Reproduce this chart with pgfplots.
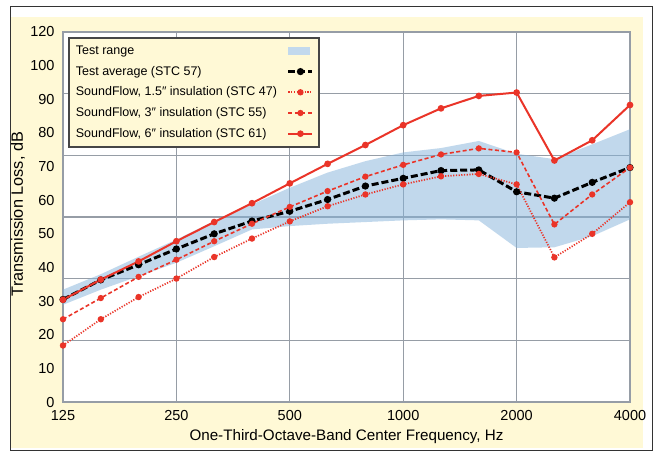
\documentclass[border=0pt]{standalone}
\usepackage{fontspec}
\setmainfont{Liberation Sans}
\usepackage{pgfplots}
\pgfplotsset{compat=1.18}
\definecolor{bgyellow}{RGB}{255,249,214}
\definecolor{bandblue}{RGB}{194,217,237}
\definecolor{bandbase}{RGB}{133,179,219}
\definecolor{gridgray}{RGB}{150,157,166}
\definecolor{sfred}{RGB}{234,52,40}
\definecolor{leggray}{RGB}{70,70,70}
\pgfplotsset{
  layers/mylayers/.define layer set={pagebg,axis background,axis grid,axis ticks,axis lines,axis tick labels,main,axis descriptions,axis foreground}{},
  legimg/.style={legend image code/.code={%
    \draw[mark repeat=2,mark phase=2] plot coordinates {(0pt,0pt) (12pt,0pt) (24pt,0pt)};}},
}
\begin{document}
\begin{tikzpicture}
\begin{axis}[
  scale only axis, width=567pt, height=370pt,
  xmin=0, xmax=15, ymin=0, ymax=110,
  xtick={0,3,6,9,12,15}, xticklabels={125,250,500,1000,2000,4000},
  ytick={0,10,...,110}, yticklabels={0,10,20,30,40,50,60,70,80,90,100,120},
  major tick length=0pt,
  xmajorgrids=true, ymajorgrids=false,
  extra y ticks={18.3333,36.6667,55,73.3333,91.6667},
  extra y tick labels={},
  extra y tick style={ymajorgrids=true},
  grid style={gridgray, line width=1.3pt},
  axis line style={gridgray, line width=1.3pt},
  axis background/.style={fill=white},
  set layers=mylayers, clip=false,
  /pgf/number format/assume math mode=true,
  tick label style={font=\fontsize{14.5}{16}\selectfont},
  yticklabel style={xshift=-5pt},
  xticklabel style={yshift=-5pt},
  xlabel={One-Third-Octave-Band Center Frequency, Hz},
  ylabel={Transmission Loss, dB},
  every axis x label/.style={at={(axis description cs:0.5,-0.0946)}, anchor=center, font=\fontsize{15.2}{17}\selectfont},
  every axis y label/.style={at={(axis description cs:-0.0794,0.508)}, anchor=center, rotate=90, font=\fontsize{16.3}{18}\selectfont},
  legend plot pos=right, legend cell align=left,
  legend style={at={(0.0088,0.9865)}, anchor=north west, fill=bgyellow, draw=leggray, line width=1.8pt,
    font=\fontsize{12.5}{14}\selectfont, inner xsep=5pt, inner ysep=4.5pt, row sep=3.7pt, column sep=8pt,
    nodes={inner sep=2pt, text height=10pt, text depth=3pt}},
]
\begin{pgfonlayer}{pagebg}
\fill[white] (rel axis cs:-0.1111,-0.1351) rectangle (rel axis cs:1.0476,1.0865);
\fill[bgyellow] (rel axis cs:-0.0917,-0.1243) rectangle (rel axis cs:1.0229,1.0405);
\draw[black!80, line width=1pt] (rel axis cs:-0.0917,-0.1297) rectangle (rel axis cs:1.0388,1.0676);
\end{pgfonlayer}
% Test range band (upper 125->4000, then lower 4000->125)
\addplot[fill=bandbase, fill opacity=0.5, draw=none,
  legend image code/.code={\fill[bandblue, fill opacity=1] (0pt,-4pt) rectangle (22pt,4pt);}]
 coordinates {
 (0,33.4) (1,38.0) (2,43.2) (3,48.3) (4,53.8) (5,58.7) (6,63.7) (7,68.2)
 (8,71.6) (9,74.2) (10,75.5) (11,77.6) (12,73.8) (13,72.2) (14,76.6) (15,81.1)
 (15,54.3) (14,49.3) (13,46.0) (12,45.8) (11,54.0) (10,54.3) (9,54.0) (8,53.5)
 (7,53.0) (6,52.3) (5,51.3) (4,46.3) (3,41.4) (2,37.4) (1,33.4) (0,28.9)
 };
\addlegendentry{Test range}
% Test average
\addplot[legimg, black, line width=3pt, dash pattern=on 7pt off 3pt, mark=*, mark size=2pt, mark options={solid}]
 coordinates {
 (0,30.5) (1,36.3) (2,40.8) (3,45.5) (4,50.0) (5,53.8) (6,56.7) (7,60.2)
 (8,64.2) (9,66.5) (10,68.8) (11,69.0) (12,62.5) (13,60.6) (14,65.3) (15,69.7)
 };
\addlegendentry{Test average (STC 57)}
% SoundFlow 1.5"
\addplot[legimg, sfred, line width=1.7pt, dash pattern=on 1.2pt off 1.5pt, mark=*, mark size=2.3pt, mark options={solid, fill=sfred}]
 coordinates {
 (0,16.8) (1,24.6) (2,31.2) (3,36.7) (4,43.1) (5,48.6) (6,53.7) (7,58.2)
 (8,61.7) (9,64.7) (10,67.1) (11,67.8) (12,64.7) (13,43.0) (14,50.0) (15,59.4)
 };
\addlegendentry{SoundFlow, 1.5″ insulation (STC 47)}
% SoundFlow 3"
\addplot[legimg, sfred, line width=1.6pt, dash pattern=on 4pt off 2.5pt, mark=*, mark size=2.3pt, mark options={solid, fill=sfred}]
 coordinates {
 (0,24.6) (1,30.9) (2,37.2) (3,42.3) (4,47.8) (5,53.0) (6,58.0) (7,62.7)
 (8,67.0) (9,70.5) (10,73.6) (11,75.4) (12,74.2) (13,52.8) (14,61.7) (15,69.7)
 };
\addlegendentry{SoundFlow, 3″ insulation (STC 55)}
% SoundFlow 6"
\addplot[legimg, sfred, line width=2pt, mark=*, mark size=2.3pt, mark options={solid, fill=sfred}]
 coordinates {
 (0,30.4) (1,36.4) (2,41.8) (3,47.8) (4,53.5) (5,59.1) (6,65.0) (7,70.8)
 (8,76.4) (9,82.3) (10,87.3) (11,91.0) (12,92.0) (13,71.8) (14,77.8) (15,88.3)
 };
\addlegendentry{SoundFlow, 6″ insulation (STC 61)}
\end{axis}
\end{tikzpicture}
\end{document}
